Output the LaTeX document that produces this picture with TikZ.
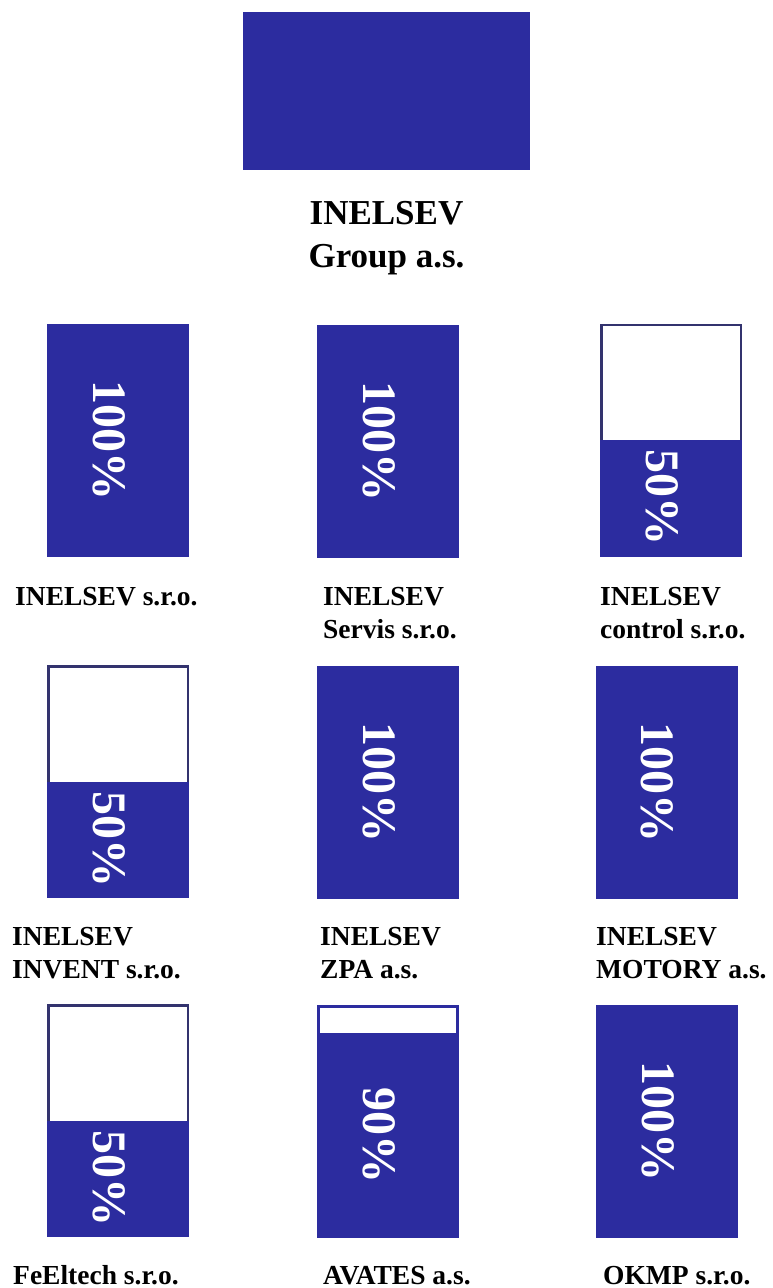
\documentclass[tikz,border=0pt]{standalone}
\usepackage{fontspec}
\setmainfont{Liberation Serif}
\usepackage{xcolor}
\usepackage{tikz}
\usetikzlibrary{calc}
\definecolor{inelblue}{HTML}{2C2C9F}
\definecolor{inelnavy}{HTML}{33336E}

\begin{document}
\begin{tikzpicture}[x=1pt,y=-1pt]
  \tikzstyle{share}=[fill=inelblue,minimum width=142pt,minimum height=233pt,inner sep=0pt,outer sep=0pt]
  \tikzstyle{part}=[share,fill=white,draw=inelnavy,line width=2.5pt,minimum width=139.5pt,minimum height=230.5pt]
  \tikzstyle{pct}=[xshift=-9pt,rotate=-90,text=white,inner sep=0pt,font=\fontsize{48}{48}\selectfont\bfseries]
  \tikzstyle{firm}=[anchor=base west,align=left,inner sep=0pt,font=\fontsize{27.5}{33}\selectfont\bfseries]
  \useasboundingbox (0,0) rectangle (772,1288);
  % parent company
  \node[share,minimum width=287pt,minimum height=158pt] (group) at (386.5,91) {};
  \node[anchor=base,align=center,inner sep=0pt,font=\fontsize{35}{43}\selectfont\bfseries] (group-name) at (386.5,267) {INELSEV\\Group a.s.};
  % first row
  \node[share] (inel) at (118,440) {};
  \node[share] (servis) at (388,441) {};
  \node[part] (control) at (671,440) {};
  \fill[inelblue] ($(control.west)+(-1.25,0)$) rectangle ($(control.south east)+(1.25,1.25)$);
  \node[pct] (inel-pct) at (inel) {100\%};
  \node[pct] (servis-pct) at (servis) {100\%};
  \node[pct] (control-pct) at ($(control.center)!0.5!(control.south)$) {50\%};
  \node[firm] (inel-name) at (15,605) {INELSEV s.r.o.};
  \node[firm] (servis-name) at (323,638) {INELSEV\\Servis s.r.o.};
  \node[firm] (control-name) at (600,638) {INELSEV\\control s.r.o.};
  % second row
  \node[part] (invent) at (118,781.5) {};
  \fill[inelblue] ($(invent.west)+(-1.25,0)$) rectangle ($(invent.south east)+(1.25,1.25)$);
  \node[share] (zpa) at (388,782) {};
  \node[share] (motory) at (666.5,782.5) {};
  \node[pct] (invent-pct) at ($(invent.center)!0.5!(invent.south)$) {50\%};
  \node[pct] (zpa-pct) at (zpa) {100\%};
  \node[pct] (motory-pct) at (motory) {100\%};
  \node[firm] (invent-name) at (12,978) {INELSEV\\INVENT s.r.o.};
  \node[firm] (zpa-name) at (320,978) {INELSEV\\ZPA a.s.};
  \node[firm] (motory-name) at (596,978) {INELSEV\\MOTORY a.s.};
  % third row
  \node[part] (feeltech) at (118,1120.5) {};
  \fill[inelblue] ($(feeltech.west)+(-1.25,0)$) rectangle ($(feeltech.south east)+(1.25,1.25)$);
  \node[share] (avates) at (388,1121) {};
  \fill[white] ($(avates.north west)+(3,3)$) rectangle ($(avates.north east)+(-3,28)$);
  \node[share] (okmp) at (667,1121) {};
  \node[pct] (feeltech-pct) at ($(feeltech.center)!0.5!(feeltech.south)$) {50\%};
  \node[pct] (avates-pct) at ($(avates)+(0,14)$) {90\%};
  \node[pct] (okmp-pct) at (okmp) {100\%};
  \node[firm] (feeltech-name) at (13,1284) {FeEltech s.r.o.};
  \node[firm] (avates-name) at (323,1284) {AVATES a.s.};
  \node[firm] (okmp-name) at (603,1284) {OKMP s.r.o.};
\end{tikzpicture}
\end{document}
